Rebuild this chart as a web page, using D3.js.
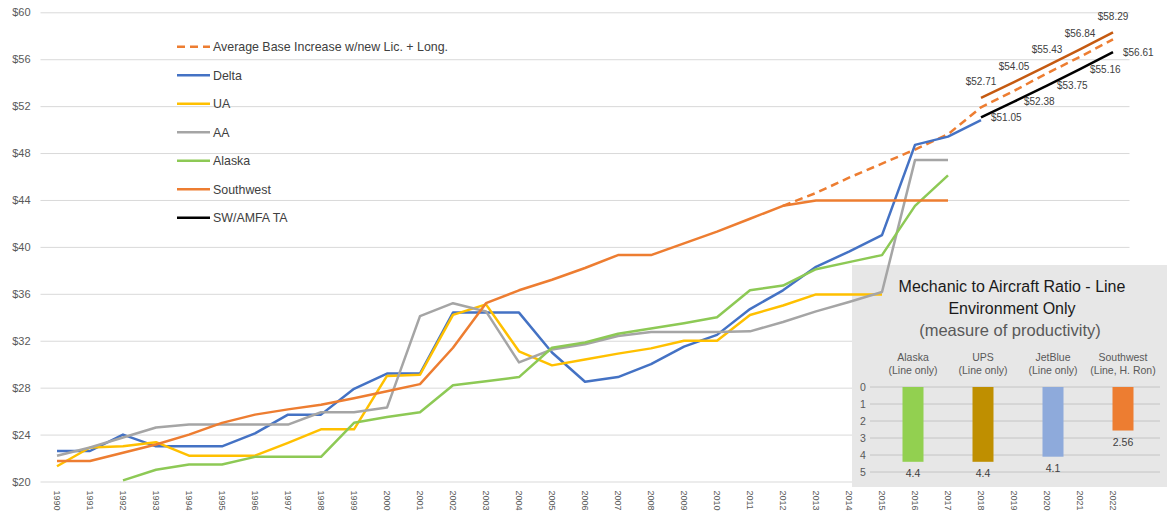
<!DOCTYPE html>
<html>
<head>
<meta charset="utf-8">
<script src="https://cdn.jsdelivr.net/npm/d3@7"></script>
<style>
    body { margin: 0; background: #fff; }
    text { font-family: "Liberation Sans", Arial, sans-serif; }
</style>
</head>
<body>
<div id="chart"></div>
<script>
// ---- data ----
var years = [1990, 1991, 1992, 1993, 1994, 1995, 1996, 1997, 1998, 1999, 2000, 2001, 2002, 2003, 2004, 2005,
    2006, 2007, 2008, 2009, 2010, 2011, 2012, 2013, 2014, 2015, 2016, 2017, 2018, 2019, 2020, 2021, 2022];

var yTicks = [20, 24, 28, 32, 36, 40, 44, 48, 52, 56, 60];

// hourly rates, one value per year from 1990 (null = no value)
var avgIncrease = [null, null, null, null, null, null, null, null, null, null, null, null, null, null, null, null,
    null, null, null, null, null, null, 43.5, 44.6, 45.9, 47.1, 48.3, 49.6, 51.9, 53.3, 54.8, 56.2, 57.7];
var delta = [22.6, 22.6, 24.0, 23.0, 23.0, 23.0, 24.1, 25.7, 25.7, 27.9, 29.2, 29.2, 34.4, 34.4, 34.4, 31.0,
    28.5, 28.9, 30.0, 31.5, 32.5, 34.7, 36.3, 38.3, 39.6, 41.0, 48.7, 49.4, 50.8];
var ua = [21.3, 22.9, 23.0, 23.35, 22.2, 22.2, 22.2, 23.3, 24.45, 24.45, 29.0, 29.1, 34.2, 35.1, 31.1, 29.9,
    30.4, 30.9, 31.35, 32.0, 32.0, 34.2, 35.0, 35.95, 35.95, 35.95];
var aa = [22.2, 22.9, 23.75, 24.6, 24.85, 24.85, 24.85, 24.85, 25.9, 25.9, 26.3, 34.1, 35.2, 34.5, 30.15, 31.25,
    31.7, 32.4, 32.75, 32.75, 32.75, 32.8, 33.6, 34.5, 35.3, 36.15, 47.4, 47.4];
var alaska = [null, null, 20.1, 21.0, 21.45, 21.45, 22.1, 22.1, 22.1, 25.0, 25.5, 25.9, 28.2, 28.55, 28.9, 31.4,
    31.85, 32.6, 33.05, 33.5, 34.0, 36.3, 36.7, 38.1, 38.7, 39.3, 43.5, 46.1];
var southwest = [21.75, 21.75, 22.45, 23.15, 24.0, 25.0, 25.7, 26.15, 26.55, 27.1, 27.7, 28.3, 31.4, 35.2, 36.3, 37.2,
    38.2, 39.3, 39.3, 40.3, 41.3, 42.4, 43.5, 43.95, 43.95, 43.95, 43.95, 43.95];
// 2018 - 2022
var taYears = [2018, 2019, 2020, 2021, 2022];
var swAmfaTA = [51.05, 52.38, 53.75, 55.16, 56.61];
var taLicLong = [52.71, 54.05, 55.43, 56.84, 58.29];

// inset: mechanic to aircraft ratio
var ratioCats = ['Alaska', 'UPS', 'JetBlue', 'Southwest'];
var ratioSub = ['(Line only)', '(Line only)', '(Line only)', '(Line, H. Ron)'];
var ratioValues = [4.4, 4.4, 4.1, 2.56];
var ratioLabels = ['4.4', '4.4', '4.1', '2.56'];
var ratioTicks = [0, 1, 2, 3, 4, 5];

// ---- layout ----
var svgWidth = 1167;
var svgHeight = 513;
var plotLeft = 40.5;
var plotRight = 1129.5;
var plotTop = 12.3;
var plotBottom = 481.5;

var svg = d3.select('#chart')
    .append('svg')
    .attr('width', svgWidth)
    .attr('height', svgHeight);

var x = d3.scalePoint()
    .domain(years)
    .range([plotLeft, plotRight])
    .padding(0.5);

var y = d3.scaleLinear()
    .domain([20, 60])
    .range([plotBottom, plotTop]);

// y gridlines + labels
var yAxis = svg.append('g')
    .attr('transform', `translate(${plotLeft}, 0)`)
    .call(d3.axisLeft(y)
        .tickValues(yTicks)
        .tickSize(-(plotRight - plotLeft))
        .tickPadding(10)
        .tickFormat(d => '$' + d));
yAxis.select('.domain').remove();
yAxis.selectAll('line').attr('stroke', '#d9d9d9');
yAxis.selectAll('text')
    .attr('fill', '#595959')
    .attr('font-size', '11px');

// x labels (rotated)
var xAxis = svg.append('g')
    .attr('transform', `translate(0, ${plotBottom})`)
    .call(d3.axisBottom(x).tickSize(0));
xAxis.select('.domain').remove();
xAxis.selectAll('text')
    .attr('fill', '#595959')
    .attr('font-size', '9px')
    .attr('text-anchor', 'start')
    .attr('transform', 'rotate(90)')
    .attr('x', 9)
    .attr('y', 0)
    .attr('dy', '0.35em');

// ---- inset panel (drawn under the lines) ----
var panel = svg.append('g');
panel.append('rect')
    .attr('x', 852)
    .attr('y', 265)
    .attr('width', 315)
    .attr('height', 222)
    .attr('fill', '#e7e7e7');

panel.append('text')
    .attr('x', 1012).attr('y', 292)
    .attr('text-anchor', 'middle')
    .attr('font-size', '16px')
    .attr('fill', '#1a1a1a')
    .text('Mechanic to Aircraft Ratio - Line');
panel.append('text')
    .attr('x', 1012).attr('y', 313.5)
    .attr('text-anchor', 'middle')
    .attr('font-size', '16px')
    .attr('fill', '#1a1a1a')
    .text('Environment Only');
panel.append('text')
    .attr('x', 1010).attr('y', 335.5)
    .attr('text-anchor', 'middle')
    .attr('font-size', '16.5px')
    .attr('fill', '#595959')
    .text('(measure of productivity)');

var xIn = d3.scaleBand()
    .domain(ratioCats)
    .range([878, 1158])
    .paddingInner(0.7)
    .paddingOuter(0.35);

var yIn = d3.scaleLinear()
    .domain([0, 5])
    .range([387, 472]);

panel.selectAll('.inGrid')
    .data(ratioTicks)
    .enter()
    .append('line')
    .attr('x1', 870).attr('x2', 1160)
    .attr('y1', d => yIn(d)).attr('y2', d => yIn(d))
    .attr('stroke', '#c4c4c4');

panel.selectAll('.inTick')
    .data(ratioTicks)
    .enter()
    .append('text')
    .attr('x', 863)
    .attr('y', d => yIn(d))
    .attr('dy', '0.35em')
    .attr('text-anchor', 'middle')
    .attr('font-size', '10.5px')
    .attr('fill', '#595959')
    .text(d => d);

var inColors = ['#92d050', '#bf8f00', '#8eaadb', '#ed7d31'];

panel.selectAll('.inBar')
    .data(ratioValues)
    .enter()
    .append('rect')
    .attr('x', (d, i) => xIn(ratioCats[i]))
    .attr('y', yIn(0))
    .attr('width', xIn.bandwidth())
    .attr('height', d => yIn(d) - yIn(0))
    .attr('fill', (d, i) => inColors[i]);

panel.selectAll('.inVal')
    .data(ratioValues)
    .enter()
    .append('text')
    .attr('x', (d, i) => xIn(ratioCats[i]) + xIn.bandwidth() / 2)
    .attr('y', d => yIn(d) + 15)
    .attr('text-anchor', 'middle')
    .attr('font-size', '10.5px')
    .attr('fill', '#404040')
    .text((d, i) => ratioLabels[i]);

panel.selectAll('.inCat')
    .data(ratioCats)
    .enter()
    .append('text')
    .attr('x', d => xIn(d) + xIn.bandwidth() / 2)
    .attr('y', 360.5)
    .attr('text-anchor', 'middle')
    .attr('font-size', '10.5px')
    .attr('fill', '#595959')
    .text(d => d);

panel.selectAll('.inSub')
    .data(ratioCats)
    .enter()
    .append('text')
    .attr('x', d => xIn(d) + xIn.bandwidth() / 2)
    .attr('y', 374)
    .attr('text-anchor', 'middle')
    .attr('font-size', '10.5px')
    .attr('fill', '#595959')
    .text((d, i) => ratioSub[i]);

// ---- series lines ----
var line = d3.line()
    .defined(d => d.v != null)
    .x(d => x(d.year))
    .y(d => y(d.v));

function toPoints(yrs, vals) {
    return vals.map((v, i) => ({ year: yrs[i], v: v }));
}

var series = [
    { name: 'Average Base Increase w/new Lic. + Long.', values: toPoints(years, avgIncrease), color: '#ed7d31', dash: '8,5' },
    { name: 'Delta', values: toPoints(years, delta), color: '#4472c4' },
    { name: 'UA', values: toPoints(years, ua), color: '#ffc000' },
    { name: 'AA', values: toPoints(years, aa), color: '#a5a5a5' },
    { name: 'Alaska', values: toPoints(years, alaska), color: '#8dc955' },
    { name: 'Southwest', values: toPoints(years, southwest), color: '#ed7d31' },
    { name: 'SW/AMFA TA', values: toPoints(taYears, swAmfaTA), color: '#000000' },
    { name: 'TA w/ Lic. + Long.', values: toPoints(taYears, taLicLong), color: '#c55a11', noLegend: true }
];

svg.append('g')
    .selectAll('path')
    .data(series)
    .enter()
    .append('path')
    .attr('d', d => line(d.values))
    .attr('fill', 'none')
    .attr('stroke', d => d.color)
    .attr('stroke-width', 2.5)
    .attr('stroke-dasharray', d => d.dash || null)
    .attr('stroke-linejoin', 'round');

// data labels
svg.append('g')
    .selectAll('text')
    .data(toPoints(taYears, taLicLong))
    .enter()
    .append('text')
    .attr('x', d => x(d.year))
    .attr('y', d => y(d.v) - 12.5)
    .attr('text-anchor', 'middle')
    .attr('font-size', '10px')
    .attr('fill', '#404040')
    .text(d => '$' + d.v.toFixed(2));

svg.append('g')
    .selectAll('text')
    .data(toPoints(taYears, swAmfaTA))
    .enter()
    .append('text')
    .attr('x', d => x(d.year) + 10)
    .attr('y', d => y(d.v))
    .attr('dy', '0.35em')
    .attr('font-size', '10px')
    .attr('fill', '#404040')
    .text(d => '$' + d.v.toFixed(2));

// ---- legend ----
var legend = svg.append('g')
    .selectAll('g')
    .data(series.filter(d => !d.noLegend))
    .enter()
    .append('g')
    .attr('transform', (d, i) => `translate(177, ${46.7 + i * 28.5})`);

legend.append('line')
    .attr('x1', 0).attr('x2', 33)
    .attr('stroke', d => d.color)
    .attr('stroke-width', 2.5)
    .attr('stroke-dasharray', d => d.dash || null);

legend.append('text')
    .attr('x', 36)
    .attr('dy', '0.35em')
    .attr('font-size', '12.4px')
    .attr('fill', '#404040')
    .text(d => d.name);
</script>
</body>
</html>
